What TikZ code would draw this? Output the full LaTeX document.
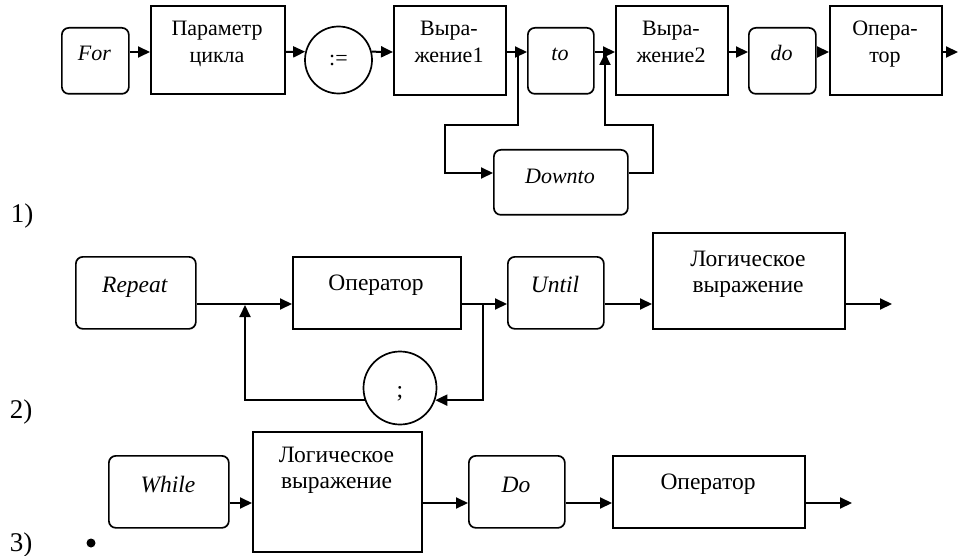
\documentclass[tikz,border=0pt]{standalone}
\usepackage{fontspec}
\setmainfont{Liberation Serif}
\usetikzlibrary{positioning,arrows.meta}

\begin{document}
\begin{tikzpicture}[x=1pt,y=-1pt,
	opbox/.style={draw,line width=1.7pt,anchor=north west,inner sep=0pt},
	kwbox/.style={opbox,rounded corners=7pt},
	sym/.style={draw,circle,line width=1.7pt,inner sep=0pt},
	flow/.style={line width=2pt,-{Triangle[length=12pt,width=11pt]}},
	txt/.style={inner sep=0pt,anchor=base,align=center},
	rowA/.style={font=\fontsize{22}{27}\selectfont},
	rowB/.style={font=\fontsize{23.5}{26}\selectfont},
	num/.style={inner sep=0pt,font=\fontsize{27}{30}\selectfont}]
\useasboundingbox (0,0) rectangle (958,556);

% 1) For
\coordinate (r1) at (0,52);
\coordinate (j1) at (0,125);
\coordinate (d1) at (0,173);
\foreach \nm/\x/\w/\tx in {for/61/67/For, to/527/66/to, do/748/67/do}
	{
	\node[kwbox,minimum width=\w pt,minimum height=66pt] (\nm) at (\x,27) {};
	\node[txt,rowA] (\nm-t) at (\x+\w/2,60.5) {\textit{\tx}};
	}
\foreach \nm/\x/\tx in {ex1/393/{Выра-\\жение1}, ex2/615/{Выра-\\жение2}, op1/829/{Опера-\\тор}}
	{
	\node[opbox,minimum width=112pt,minimum height=89pt] (\nm) at (\x,5) {};
	\node[txt,rowA,anchor=north] (\nm-t) at (\x+56,20.5) {\tx};
	}
\node[opbox,minimum width=134pt,minimum height=88pt] (par) at (150,5) {};
\node[txt,rowA,anchor=north] (par-t) at (217,20.5) {Параметр\\цикла};
\node[sym,minimum size=67pt,rowA] (asg) at (338.5,60) {:=};
\node[kwbox,minimum width=134pt,minimum height=65pt] (dn) at (493,149) {};
\node[txt,rowA] (dn-t) at (560,184) {\textit{Downto}};

\draw[flow] (for.east |- r1) -- (par.west |- r1);
\draw[flow] (par.east |- r1) -- (asg.166);
\draw[flow] (asg.14) -- (ex1.west |- r1);
\draw[flow] (ex1.east |- r1) -- (to.west |- r1);
\draw[flow] (to.east |- r1) -- (ex2.west |- r1);
\draw[flow] (ex2.east |- r1) -- (do.west |- r1);
\draw[flow] (do.east |- r1) -- (op1.west |- r1);
\coordinate (out1) at (958,52);
\draw[flow] (op1.east |- r1) -- (out1);
% Downto branch
\coordinate (s1) at (518,52);
\coordinate (m1) at (605,53);
\draw[flow] (s1) |- (445,125) |- (dn.west |- d1);
\draw[flow] (dn.east |- d1) -| (653,125) -| (m1);

% 2) Repeat
\coordinate (r2) at (0,304);
\node[kwbox,minimum width=120pt,minimum height=72pt] (rep) at (75,256) {};
\node[txt,rowB] (rep-t) at (135,292) {\textit{Repeat}};
\node[opbox,minimum width=168pt,minimum height=72pt] (op2) at (292,256) {};
\node[txt,rowB] (op2-t) at (376,290) {Оператор};
\node[kwbox,minimum width=96pt,minimum height=72pt] (unt) at (507,256) {};
\node[txt,rowB] (unt-t) at (555,292) {\textit{Until}};
\node[opbox,minimum width=192pt,minimum height=96pt] (lg2) at (652,232) {};
\node[txt,rowB,anchor=north] (lg2-t) at (748,250.5) {Логическое\\выражение};
\node[sym,minimum size=73pt,rowB,text height=18pt,text depth=0pt] (semi) at (400,388) {;};

\draw[flow] (rep.east |- r2) -- (op2.west |- r2);
\draw[flow] (op2.east |- r2) -- (unt.west |- r2);
\draw[flow] (unt.east |- r2) -- (lg2.west |- r2);
\coordinate (out2) at (892,304);
\draw[flow] (lg2.east |- r2) -- (out2);
% loop through ;
\coordinate (s2) at (483,304);
\coordinate (m2) at (245,305);
\draw[flow] (s2) |- (semi.-19);
\draw[flow] (semi.199) -| (m2);

% 3) While
\coordinate (r3) at (0,503);
\node[kwbox,minimum width=120pt,minimum height=72pt] (whl) at (108,455) {};
\node[txt,rowB] (whl-t) at (168,492) {\textit{While}};
\node[opbox,minimum width=169pt,minimum height=120pt] (lg3) at (252,431) {};
\node[txt,rowB,anchor=north] (lg3-t) at (336.5,447) {Логическое\\выражение};
\node[kwbox,minimum width=96pt,minimum height=72pt] (dow) at (468,455) {};
\node[txt,rowB] (dow-t) at (516,492) {\textit{Do}};
\node[opbox,minimum width=192pt,minimum height=72pt] (op3) at (612,455) {};
\node[txt,rowB] (op3-t) at (708,489) {Оператор};

\draw[flow] (whl.east |- r3) -- (lg3.west |- r3);
\draw[flow] (lg3.east |- r3) -- (dow.west |- r3);
\draw[flow] (dow.east |- r3) -- (op3.west |- r3);
\coordinate (out3) at (852,503);
\draw[flow] (op3.east |- r3) -- (out3);

% numbering
\node[num] (n1) at (22,216) {1)};
\node[num] (n2) at (21,412) {2)};
\node[num] (n3) at (21,545) {3)};
\fill (91,543) circle (4.5pt);
\end{tikzpicture}
\end{document}
